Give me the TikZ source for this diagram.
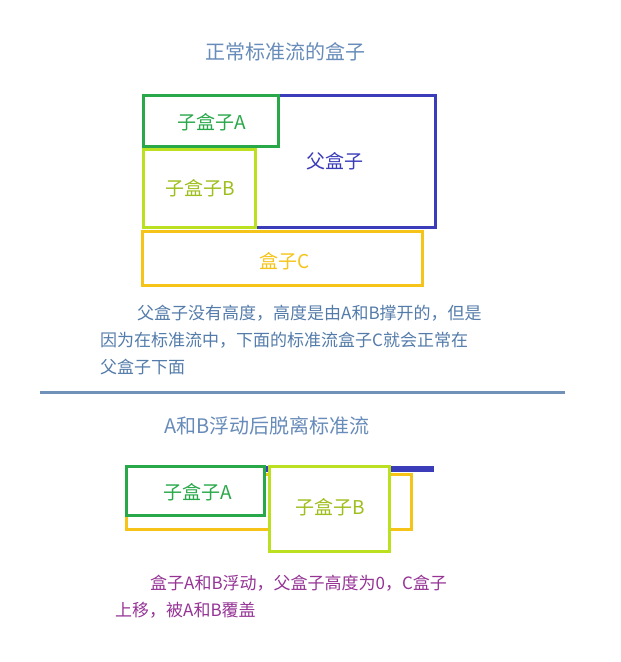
\documentclass[tikz,border=0pt]{standalone}
\usepackage{fontspec}
\setmainfont{Noto Sans CJK SC}
\usepackage{xcolor}
\usepackage{tikz}
\definecolor{titleblue}{RGB}{104,140,186}
\definecolor{textblue}{RGB}{84,124,170}
\definecolor{ruleblue}{RGB}{112,146,184}
\definecolor{parentblue}{RGB}{58,60,186}
\definecolor{boxgreen}{RGB}{40,168,72}
\definecolor{boxlime}{RGB}{186,224,32}
\definecolor{boxgold}{RGB}{246,196,24}
\definecolor{notepurple}{RGB}{150,52,150}

\begin{document}
\begin{tikzpicture}[x=1pt, y=-1pt,
    box/.style={line width=3pt},
    heading/.style={font=\fontsize{20}{24}\selectfont, text=titleblue},
    boxtext/.style={font=\fontsize{19}{22}\selectfont},
    note/.style={anchor=west, inner sep=0pt, font=\fontsize{17}{20}\selectfont}]
    \useasboundingbox[fill=white] (0,0) rectangle (621,662);

    % Normal flow
    \node[heading] (topTitle) at (285,52) {正常标准流的盒子};
    \draw[box, draw=parentblue] (143.5,95.5) rectangle (435.5,227.5);
    \node[boxtext, text=parentblue] (parentText) at (335,161) {父盒子};
    \draw[box, draw=boxgreen] (143.5,95.5) rectangle (278.5,146);
    \node[boxtext, text=boxgreen] (aText) at (212,122) {子盒子A};
    \draw[box, draw=boxlime] (143.5,149.5) rectangle (255,227);
    \node[boxtext, text=boxlime!85!black] (bText) at (200,188) {子盒子B};
    \draw[box, draw=boxgold] (142.5,231.5) rectangle (422.5,285.5);
    \node[boxtext, text=boxgold] (cText) at (285,261) {盒子C};

    \node[note, text=textblue] (topNote1) at (137,313) {父盒子没有高度，高度是由A和B撑开的，但是};
    \node[note, text=textblue] (topNote2) at (100,340) {因为在标准流中，下面的标准流盒子C就会正常在};
    \node[note, text=textblue] (topNote3) at (100,367) {父盒子下面};

    % Separator
    \draw[ruleblue, line width=3pt] (40,392) -- (565,392);

    % Floated boxes
    \node[heading] (bottomTitle) at (267,426) {A和B浮动后脱离标准流};
    \draw[parentblue, line width=6pt] (125,469) -- (434,469);
    \draw[box, draw=boxgold] (126.5,474.5) rectangle (411.5,529.5);
    \draw[box, draw=boxgreen, fill=white] (126.5,466.5) rectangle (264.5,515.5);
    \node[boxtext, text=boxgreen] (aFloatText) at (198,492) {子盒子A};
    \draw[box, draw=boxlime, fill=white] (269.5,466.5) rectangle (389.5,551.5);
    \node[boxtext, text=boxlime!85!black] (bFloatText) at (330,507) {子盒子B};

    \node[note, text=notepurple] (bottomNote1) at (150,583) {盒子A和B浮动，父盒子高度为0，C盒子};
    \node[note, text=notepurple] (bottomNote2) at (115,610) {上移，被A和B覆盖};
\end{tikzpicture}
\end{document}
